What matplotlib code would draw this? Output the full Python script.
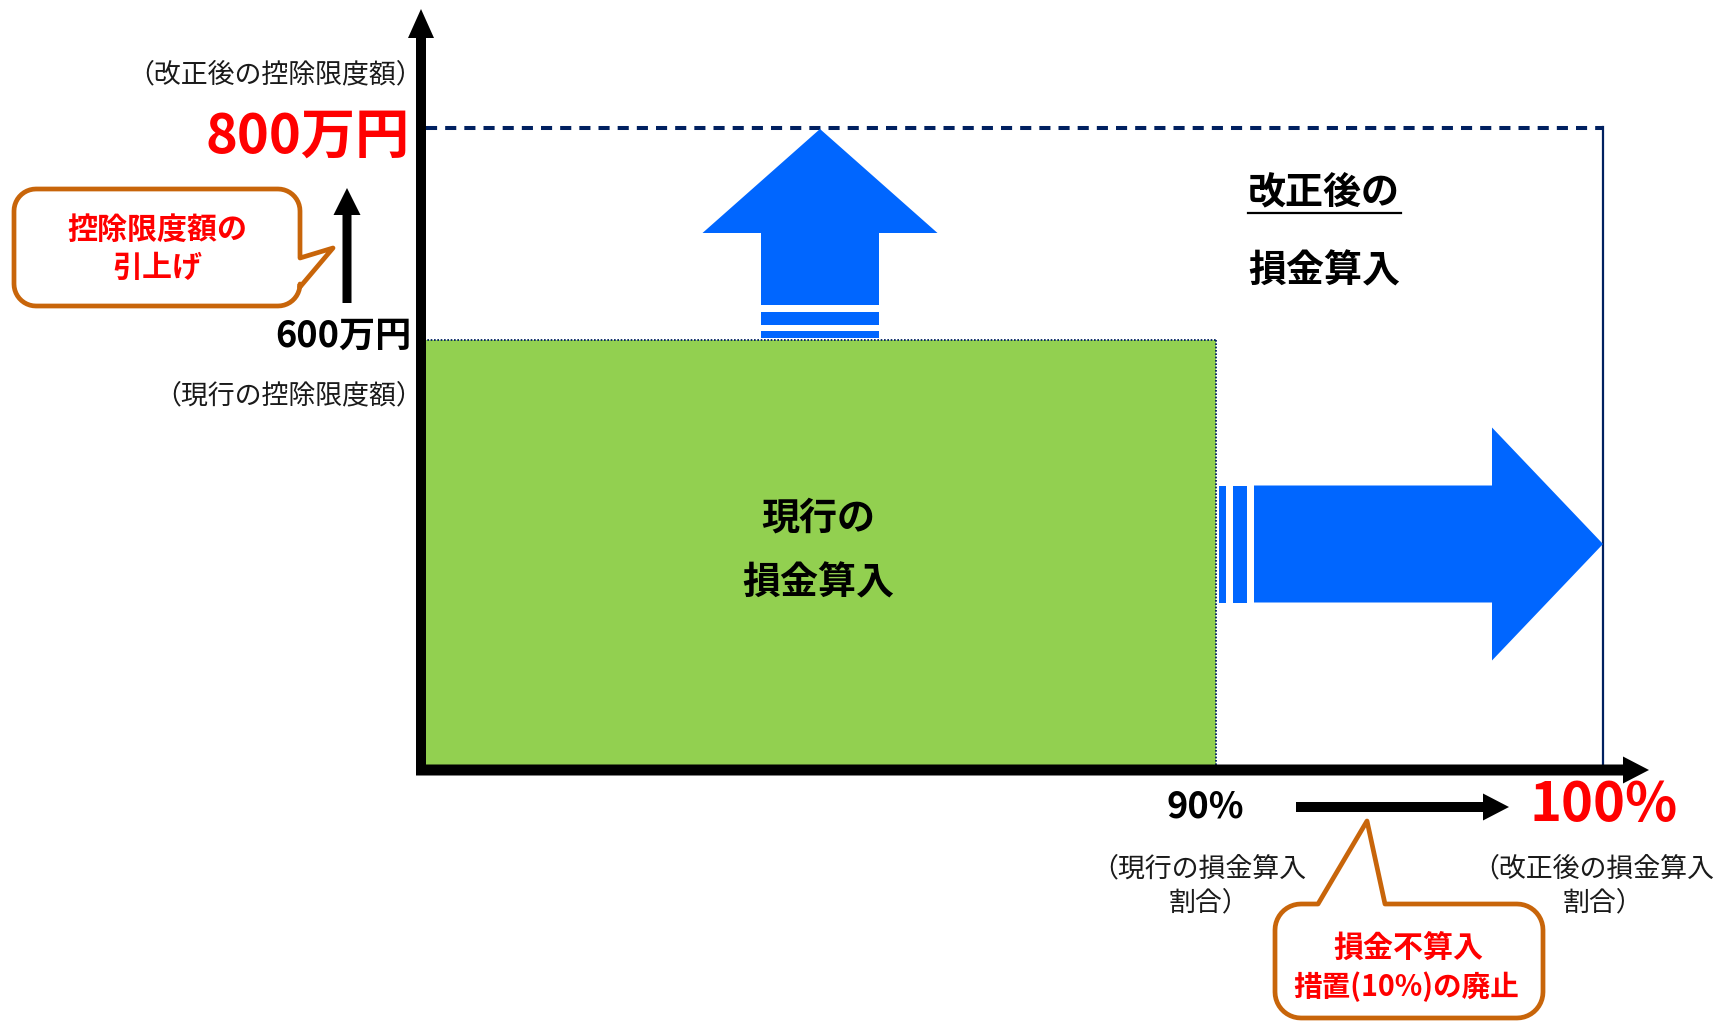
import numpy as np
import matplotlib
matplotlib.use("Agg")
import matplotlib.pyplot as plt
from matplotlib.patches import Polygon, Rectangle, PathPatch
from matplotlib.path import Path

plt.rcParams['font.family'] = ['Noto Sans CJK JP', 'DejaVu Sans']
plt.rcParams['lines.scale_dashes'] = False

# ---- values shown in the diagram ----
limit_values = [600, 800]          # 控除限度額 (万円): current, revised
limit_notes = ['（現行の控除限度額）', '（改正後の控除限度額）']
ratio_values = [90, 100]           # 損金算入割合 (%): current, revised
ratio_notes = [['（現行の損金算入', '割合）'], ['（改正後の損金算入', '割合）']]
region_labels = [['現行の', '損金算入'], ['改正後の', '損金算入']]
callout_texts = [['控除限度額の', '引上げ'], ['損金不算入', '措置(10%)の廃止']]

# ---- colours ----
GREEN = '#92D050'
BLUE = '#0066FF'
NAVY = '#002060'
ORANGE = '#C8650A'
RED = '#FF0000'
TXT = '#1a1a1a'

NOTE_FS = 19.4

W, H = 1717, 1023
fig = plt.figure(figsize=(W / 100, H / 100), dpi=100)
ax = fig.add_axes([0, 0, 1, 1])
ax.set_xlim(0, W)
ax.set_ylim(H, 0)
ax.axis('off')

# schematic layout (canvas units, y grows downward)
X0, Y0 = 421, 770                       # origin of the axes
Y_LIM = {600: 340, 800: 128}            # vertical position of each limit
X_RATIO = {90: 1216, 100: 1603}         # horizontal position of each ratio


def arrow_poly(tail, tip, shaft_w, head_w, head_len):
    """Block arrow polygon from tail point to tip point."""
    tail = np.asarray(tail, float)
    tip = np.asarray(tip, float)
    d = tip - tail
    L = np.hypot(*d)
    u = d / L
    n = np.array([-u[1], u[0]])
    base = tip - u * head_len
    pts = [tail + n * shaft_w / 2, base + n * shaft_w / 2, base + n * head_w / 2, tip,
           base - n * head_w / 2, base - n * shaft_w / 2, tail - n * shaft_w / 2]
    return np.array(pts)


def callout(x0, y0, x1, y1, r, side, a, b, tip):
    """Rounded box with a pointed tail on the given side ('right' or 'top')."""
    def arc(cx, cy, t0, t1):
        t = np.linspace(np.radians(t0), np.radians(t1), 12)
        return [(cx + r * np.cos(tt), cy + r * np.sin(tt)) for tt in t]
    pts = []
    pts += arc(x0 + r, y0 + r, 180, 270)
    if side == 'top':
        pts += [(a, y0), tip, (b, y0)]
    pts += arc(x1 - r, y0 + r, 270, 360)
    if side == 'right':
        pts += [(x1, a), tip, (x1, b)]
    pts += arc(x1 - r, y1 - r, 0, 90)
    pts += arc(x0 + r, y1 - r, 90, 180)
    pts.append(pts[0])
    codes = [Path.MOVETO] + [Path.LINETO] * (len(pts) - 2) + [Path.CLOSEPOLY]
    return Path(pts, codes)


# ---- green area: current deductible portion ----
xg0, xg1 = X0 + 3, X_RATIO[ratio_values[0]]
yg = Y_LIM[limit_values[0]]
ax.add_patch(Rectangle((xg0, yg), xg1 - xg0, Y0 - yg, facecolor=GREEN, edgecolor='none', zorder=1))
ax.plot([xg0, xg1], [yg, yg], color=NAVY, lw=1.3, ls=(0, (1.2, 1.2)), zorder=2)
ax.plot([xg1, xg1], [yg, Y0], color=NAVY, lw=1.3, ls=(0, (1.2, 1.2)), zorder=2)

# ---- revised limit: dashed top and solid right edge ----
yr = Y_LIM[limit_values[1]]
xr = X_RATIO[ratio_values[1]]
ax.plot([X0 + 5, xr], [yr, yr], color=NAVY, lw=2.9, dashes=(8, 5.8), solid_capstyle='butt', zorder=2)
ax.plot([xr, xr], [yr - 1, Y0], color=NAVY, lw=1.6, zorder=2)

# ---- axes drawn as thick black arrows ----
ax.add_patch(Polygon(arrow_poly((X0, Y0 + 5), (X0, 9), 10, 26, 29), closed=True,
                     facecolor='black', edgecolor='none', zorder=5))
ax.add_patch(Polygon(arrow_poly((X0 - 5, Y0), (1649, Y0), 11, 27, 26), closed=True,
                     facecolor='black', edgecolor='none', zorder=5))

# ---- blue upward arrow (limit raised) ----
cx_up = 820
ax.add_patch(Polygon(arrow_poly((cx_up, 305), (cx_up, yr + 1), 118, 235, 104), closed=True,
                     facecolor=BLUE, edgecolor='none', zorder=3))
for ya, yb in [(312, 325), (331, 338)]:
    ax.add_patch(Rectangle((cx_up - 59, ya), 118, yb - ya, facecolor=BLUE, edgecolor='none', zorder=3))

# ---- blue rightward arrow (ratio raised) ----
cy_r = 544
ax.add_patch(Polygon(arrow_poly((1254, cy_r), (xr, cy_r), 117, 233, 111), closed=True,
                     facecolor=BLUE, edgecolor='none', zorder=3))
for xa, xb in [(1219, 1226), (1233, 1247)]:
    ax.add_patch(Rectangle((xa, cy_r - 58.5), xb - xa, 117, facecolor=BLUE, edgecolor='none', zorder=3))

# ---- small black arrows ----
ax.add_patch(Polygon(arrow_poly((347, 303), (347, 188), 9, 27, 27), closed=True,
                     facecolor='black', edgecolor='none', zorder=5))
ax.add_patch(Polygon(arrow_poly((1296, 807), (1509, 807), 10, 27, 26), closed=True,
                     facecolor='black', edgecolor='none', zorder=5))

# ---- y-axis labels ----
ax.text(423, 75, limit_notes[1], ha='right', va='center', fontsize=NOTE_FS, color=TXT)
ax.text(410, 137, f'{limit_values[1]}万円', ha='right', va='center', fontsize=39,
        fontweight='bold', color=RED)
ax.text(411, 336, f'{limit_values[0]}万円', ha='right', va='center', fontsize=26,
        fontweight='bold', color='black')
ax.text(423, 396, limit_notes[0], ha='right', va='center', fontsize=NOTE_FS, color=TXT)

# ---- x-axis labels ----
ax.text(1205, 807, f'{ratio_values[0]}%', ha='center', va='center', fontsize=26,
        fontweight='bold', color='black')
ax.text(1604, 806, f'{ratio_values[1]}%', ha='center', va='center', fontsize=39,
        fontweight='bold', color=RED)
for cx, lines in zip([1203, 1597], ratio_notes):
    ax.text(cx - 4, 869, lines[0], ha='center', va='center', fontsize=NOTE_FS, color=TXT)
    ax.text(cx + 6, 903, lines[1], ha='center', va='center', fontsize=NOTE_FS, color=TXT)

# ---- region labels ----
ax.text(818, 518, region_labels[0][0], ha='center', va='center', fontsize=27.4,
        fontweight='bold', color='black', zorder=4)
ax.text(818, 583, region_labels[0][1], ha='center', va='center', fontsize=27.4,
        fontweight='bold', color='black', zorder=4)
ax.text(1324, 192, region_labels[1][0], ha='center', va='center', fontsize=27.4,
        fontweight='bold', color='black', zorder=4)
ax.plot([1248, 1401], [213, 213], color='black', lw=1.6, zorder=4)
ax.text(1324, 271, region_labels[1][1], ha='center', va='center', fontsize=27.4,
        fontweight='bold', color='black', zorder=4)

# ---- callouts ----
p1 = callout(14, 189, 300, 306, 22, 'right', 258, 287, (333, 248))
ax.add_patch(PathPatch(p1, facecolor='white', edgecolor=ORANGE, lw=3.4, joinstyle='round', zorder=6))
ax.text(157, 230, callout_texts[0][0], ha='center', va='center', fontsize=21.6,
        fontweight='bold', color=RED, zorder=7)
ax.text(157, 268, callout_texts[0][1], ha='center', va='center', fontsize=21.6,
        fontweight='bold', color=RED, zorder=7)

p2 = callout(1275, 904, 1543, 1018, 26, 'top', 1318, 1385, (1367, 821))
ax.add_patch(PathPatch(p2, facecolor='white', edgecolor=ORANGE, lw=3.4, joinstyle='round', zorder=6))
ax.text(1408, 948, callout_texts[1][0], ha='center', va='center', fontsize=21.6,
        fontweight='bold', color=RED, zorder=7)
ax.text(1406, 987, callout_texts[1][1], ha='center', va='center', fontsize=20.6,
        fontweight='bold', color=RED, zorder=7)

fig.savefig('out.png', dpi=100, facecolor='white')
